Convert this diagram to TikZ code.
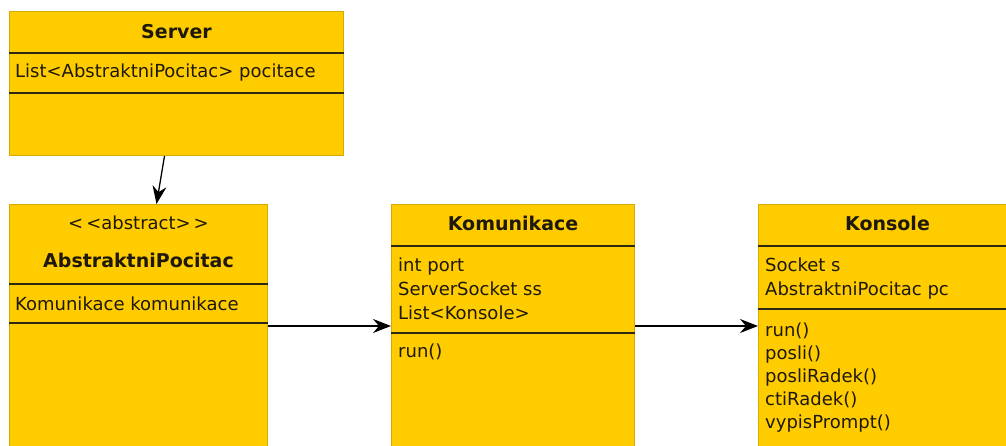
\documentclass[tikz,border=0pt]{standalone}
\usepackage{fontspec}
\setmainfont{DejaVu Sans}
\usetikzlibrary{calc,arrows.meta,positioning}

\definecolor{classfill}{RGB}{255,204,0}
\definecolor{classedge}{RGB}{215,170,0}
\definecolor{rulecol}{RGB}{45,40,20}
\definecolor{textcol}{RGB}{30,25,10}

\tikzset{
	classbox/.style={draw=classedge, fill=classfill, line width=1pt, anchor=north west, inner sep=0pt},
	classname/.style={anchor=base, inner sep=0pt, text=textcol, font=\bfseries\fontsize{19}{22}\selectfont},
	member/.style={anchor=base west, inner sep=0pt, text=textcol, font=\fontsize{18}{22}\selectfont},
	divider/.style={draw=rulecol, line width=1.4pt},
	assoc/.style={-{Stealth[length=18pt,width=14pt,inset=6pt]}, line width=1.3pt},
}

\begin{document}
\begin{tikzpicture}[x=1pt, y=-1pt]
		
		\useasboundingbox (0,0) rectangle (1006,446);
		\clip (0,0) rectangle (1006,446);
		
		% Class boxes (the lower three run off the bottom)
		\node[classbox, minimum width=334, minimum height=144] (server) at (9,11) {};
		\node[classbox, minimum width=258, minimum height=260] (abstrakt) at (9,204) {};
		\node[classbox, minimum width=243, minimum height=260] (komunikace) at (391,204) {};
		\node[classbox, minimum width=258, minimum height=260] (konsole) at (758,204) {};
		
		% Compartment lines
		\draw[divider] ([yshift=-42pt]server.north west) -- ([yshift=-42pt]server.north east);
		\draw[divider] ([yshift=-82pt]server.north west) -- ([yshift=-82pt]server.north east);
		\draw[divider] ([yshift=-80pt]abstrakt.north west) -- ([yshift=-80pt]abstrakt.north east);
		\draw[divider] ([yshift=-119pt]abstrakt.north west) -- ([yshift=-119pt]abstrakt.north east);
		\draw[divider] ([yshift=-42pt]komunikace.north west) -- ([yshift=-42pt]komunikace.north east);
		\draw[divider] ([yshift=-129pt]komunikace.north west) -- ([yshift=-129pt]komunikace.north east);
		\draw[divider] ([yshift=-42pt]konsole.north west) -- ([yshift=-42pt]konsole.north east);
		\draw[divider] ([yshift=-105pt]konsole.north west) -- ([yshift=-105pt]konsole.north east);
		
		% Server
		\node[classname] (server-name) at (server.north |- 0,39) {Server};
		\node[member] (server-a) at (15,78) {List<AbstraktniPocitac>\ pocitace};
		
		% AbstraktniPocitac
		\node[member, anchor=base] (abstrakt-st) at (abstrakt.north |- 0,230) {<\,<abstract>\,>};
		\node[classname] (abstrakt-name) at (abstrakt.north |- 0,268) {AbstraktniPocitac};
		\node[member] (abstrakt-a) at (15,310) {Komunikace komunikace};
		
		% Komunikace
		\node[classname] (komunikace-name) at (komunikace.north |- 0,231) {Komunikace};
		\foreach \t [count=\i from 0] in {int port, ServerSocket ss, {List<Konsole>}}
			\node[member] (komunikace-a\i) at (398,272+23.5*\i) {\t};
		\node[member] (komunikace-m0) at (398,357) {run()};
		
		% Konsole
		\node[classname] (konsole-name) at (konsole.north |- 0,231) {Konsole};
		\foreach \t [count=\i from 0] in {Socket s, AbstraktniPocitac pc}
			\node[member] (konsole-a\i) at (765,272+23.5*\i) {\t};
		\foreach \t [count=\i from 0] in {{run()}, {posli()}, {posliRadek()}, {ctiRadek()}, {vypisPrompt()}}
			\node[member] (konsole-m\i) at (765,336+23*\i) {\t};
		
		% Associations
		\draw[assoc] ([xshift=-12pt]server.south) -- ([xshift=18pt]abstrakt.north);
		\draw[assoc] (abstrakt.east |- 0,326) -- (komunikace.west |- 0,326);
		\draw[assoc] (komunikace.east |- 0,326) -- (konsole.west |- 0,326);
	\end{tikzpicture}
\end{document}
